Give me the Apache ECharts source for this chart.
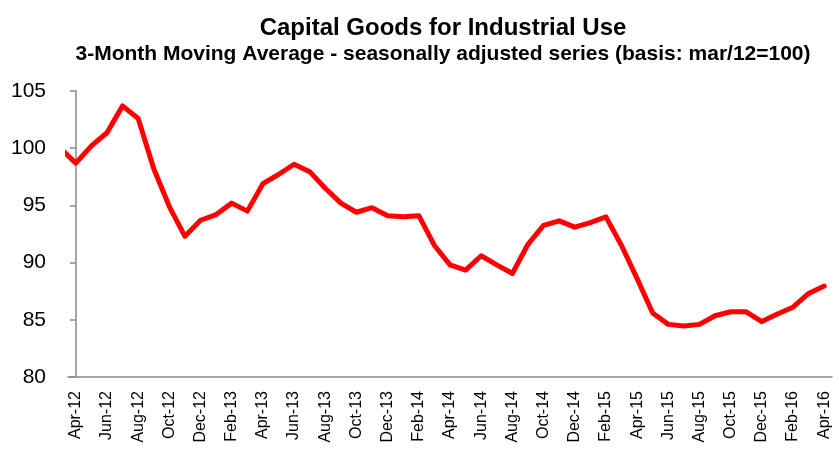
<!DOCTYPE html>
<html>
<head>
<meta charset="utf-8">
<title>Capital Goods for Industrial Use</title>
<script src="https://cdn.jsdelivr.net/npm/echarts@6/dist/echarts.min.js"></script>
<style>
  html, body { margin: 0; padding: 0; background: #fff; }
  #chart { width: 839px; height: 458px; }
</style>
</head>
<body>
<div id="chart"></div>
<script>
// months, Mar-12 (base month, sits just left of the axis) to Apr-16
var months = [
  "Mar-12", "Apr-12", "May-12", "Jun-12", "Jul-12", "Aug-12", "Sep-12", "Oct-12", "Nov-12", "Dec-12",
  "Jan-13", "Feb-13", "Mar-13", "Apr-13", "May-13", "Jun-13", "Jul-13", "Aug-13", "Sep-13", "Oct-13", "Nov-13", "Dec-13",
  "Jan-14", "Feb-14", "Mar-14", "Apr-14", "May-14", "Jun-14", "Jul-14", "Aug-14", "Sep-14", "Oct-14", "Nov-14", "Dec-14",
  "Jan-15", "Feb-15", "Mar-15", "Apr-15", "May-15", "Jun-15", "Jul-15", "Aug-15", "Sep-15", "Oct-15", "Nov-15", "Dec-15",
  "Jan-16", "Feb-16", "Mar-16", "Apr-16"
];
// 3-month moving average index (mar/12 = 100)
var index = [
  100.0, 98.7, 100.2, 101.35, 103.7, 102.6, 98.2, 94.9, 92.3, 93.7,
  94.2, 95.2, 94.5, 96.9, 97.7, 98.6, 97.95, 96.5, 95.2, 94.4, 94.8, 94.1,
  94.0, 94.1, 91.5, 89.8, 89.35, 90.6, 89.8, 89.05, 91.6, 93.25, 93.65, 93.1,
  93.5, 94.0, 91.5, 88.6, 85.6, 84.6, 84.45, 84.6, 85.35, 85.7, 85.7, 84.85,
  85.5, 86.1, 87.3, 87.95
];
var yTicks = [80, 85, 90, 95, 100, 105];

var axisCats = months.slice(1);
var lineData = index.map(function (v, i) { return [i - 1, v]; });

var font = "'Liberation Sans', Arial, sans-serif";
var myChart = echarts.init(document.getElementById("chart"));
myChart.setOption({
  animation: false,
  backgroundColor: "#ffffff",
  title: [
    {
      text: "Capital Goods for Industrial Use",
      left: 438,
      top: 11,
      textAlign: "center",
      textStyle: { fontFamily: font, fontSize: 24, fontWeight: "bold", color: "#000" }
    },
    {
      text: "3-Month Moving Average - seasonally adjusted series (basis: mar/12=100)",
      left: 438,
      top: 39,
      textAlign: "center",
      textStyle: { fontFamily: font, fontSize: 21, fontWeight: "bold", color: "#000" }
    }
  ],
  grid: { left: 68, right: 7, top: 91, bottom: 81 },
  xAxis: [
    {
      type: "category",
      data: axisCats,
      boundaryGap: true,
      axisLine: { lineStyle: { color: "#898989", width: 1.5 } },
      axisTick: { interval: 1, length: 6, lineStyle: { color: "#898989", width: 1.5 } },
      axisLabel: {
        interval: 1,
        rotate: 90,
        margin: 14,
        fontFamily: font,
        fontSize: 16,
        color: "#000"
      },
      splitLine: { show: false }
    },
    {
      type: "value",
      min: -0.5,
      max: axisCats.length - 0.5,
      show: false
    }
  ],
  yAxis: {
    type: "value",
    min: yTicks[0],
    max: yTicks[yTicks.length - 1],
    interval: 5,
    axisLine: { show: true, lineStyle: { color: "#898989", width: 1.5 } },
    axisTick: { show: true, length: 6, lineStyle: { color: "#898989", width: 1.5 } },
    axisLabel: { margin: 22, fontFamily: font, fontSize: 21, color: "#000" },
    splitLine: { show: false }
  },
  series: [
    {
      name: "Capital Goods",
      type: "line",
      xAxisIndex: 1,
      data: lineData,
      showSymbol: false,
      clip: true,
      lineStyle: { color: "#ff0000", width: 5, join: "round", cap: "round" }
    }
  ]
});
</script>
</body>
</html>
